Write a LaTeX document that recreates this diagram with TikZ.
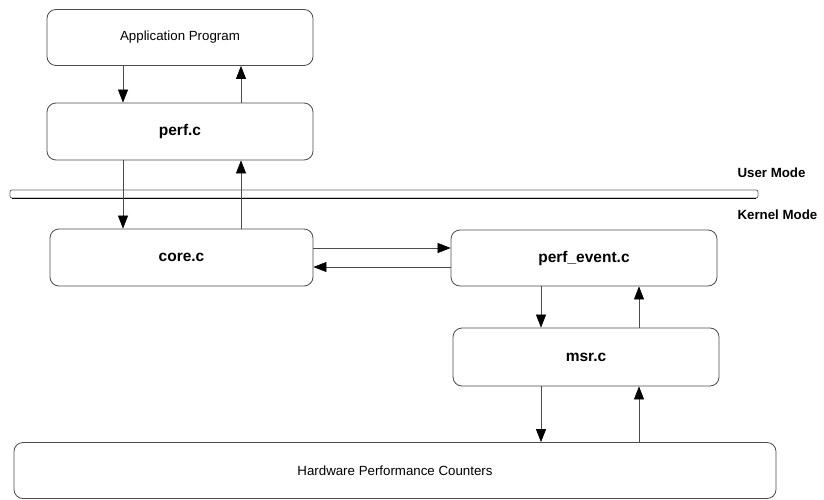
\documentclass[tikz,border=0pt]{standalone}
\usepackage{fontspec}
\setmainfont{Liberation Sans}
\usetikzlibrary{arrows.meta}
\begin{document}
\begin{tikzpicture}[x=1pt,y=-1pt,
  box/.style={draw=black!70, line width=0.8pt, rounded corners=9pt, fill=white, align=center, inner sep=0pt},
  plain/.style={font=\fontsize{13.3}{15}\selectfont},
  bold/.style={font=\fontsize{15.5}{17}\selectfont\bfseries},
  modelabel/.style={anchor=west, font=\fontsize{13.3}{15}\selectfont\bfseries},
  arr/.style={draw=black!70, line width=0.7pt, -{Triangle[length=13pt,width=10pt,color=black]}}]
\useasboundingbox (0,0) rectangle (824,500);

% components
\node[box, plain, minimum width=266pt, minimum height=56pt] (app) at (180,37.5) {Application Program};
\node[box, bold, minimum width=266pt, minimum height=57pt] (perf) at (180,131.5) {perf.c};
\node[box, bold, minimum width=263pt, minimum height=57pt] (core) at (181.5,257.5) {core.c};
\node[box, bold, minimum width=266pt, minimum height=56pt] (pe) at (584,258) {perf\_event.c};
\node[box, bold, minimum width=266pt, minimum height=58pt] (msr) at (586,357) {msr.c};
\node[box, plain, minimum width=762pt, minimum height=56pt] (hw) at (395,470.5) {Hardware Performance Counters};

% user/kernel boundary
\draw[draw=black!60, line width=0.8pt, rounded corners=2pt] (10,190) rectangle (758,198);
\draw[black, line width=0.8pt] (12,198) -- (756,198);
\node[modelabel] (user) at (734,173) {User Mode};
\node[modelabel] (kernel) at (734,215) {Kernel Mode};

% calls and returns
\draw[arr] ([xshift=-57pt]app.south) -- ([xshift=-57pt]perf.north);
\draw[arr] ([xshift=61pt]perf.north) -- ([xshift=61pt]app.south);
\draw[arr] ([xshift=-57pt]perf.south) -- ([xshift=-57pt]perf.south |- core.north);
\draw[arr] ([xshift=61pt]perf.south |- core.north) -- ([xshift=61pt]perf.south);
\draw[arr] ([yshift=9.5pt]core.east) -- ([yshift=9.5pt]core.east -| pe.west);
\draw[arr] ([yshift=-9.5pt]core.east -| pe.west) -- ([yshift=-9.5pt]core.east);
\draw[arr] ([xshift=-43pt]pe.south) -- ([xshift=-43pt]pe.south |- msr.north);
\draw[arr] ([xshift=55pt]pe.south |- msr.north) -- ([xshift=55pt]pe.south);
\draw[arr] ([xshift=-45pt]msr.south) -- ([xshift=-45pt]msr.south |- hw.north);
\draw[arr] ([xshift=53pt]msr.south |- hw.north) -- ([xshift=53pt]msr.south);
\end{tikzpicture}
\end{document}
